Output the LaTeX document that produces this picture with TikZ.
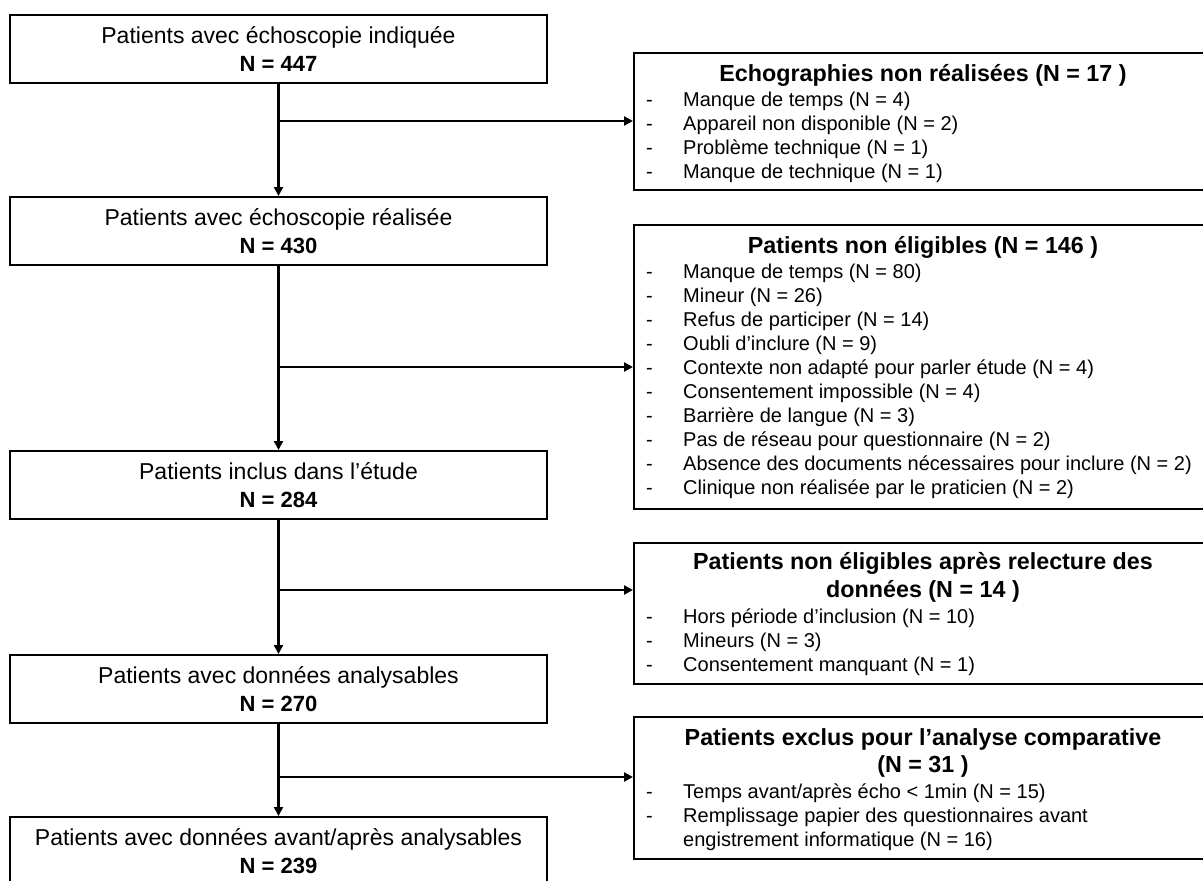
\documentclass[tikz,border=0pt]{standalone}
\usepackage{fontspec}
\setmainfont{Liberation Sans}
\usetikzlibrary{positioning,arrows.meta}

\begin{document}
\begin{tikzpicture}[x=1pt,y=-1pt,
    mainbox/.style={draw,line width=2pt,minimum width=537pt,minimum height=68pt,
      inner sep=0pt,align=center,font=\fontsize{23}{28}\selectfont},
    sidebox/.style={draw,line width=2pt,minimum width=580pt,anchor=north west,inner sep=0pt},
    boxtitle/.style={anchor=base,inner sep=0pt,font=\bfseries\fontsize{23.3}{27}\selectfont},
    boxitem/.style={anchor=base west,inner sep=0pt,font=\fontsize{20}{24}\selectfont},
    arr/.style={line width=2.6pt,-{Triangle[length=9pt,width=9pt]}}]
  \useasboundingbox (0,0) rectangle (1203,881);
  \fill[white] (0,0) rectangle (1203,881);
  % left column
  \node[mainbox] (B1) at (278.5,49) {Patients avec échoscopie indiquée\\{\bfseries\fontsize{22}{28}\selectfont N = 447}};
  \node[mainbox] (B2) at (278.5,231) {Patients avec échoscopie réalisée\\{\bfseries\fontsize{22}{28}\selectfont N = 430}};
  \node[mainbox] (B3) at (278.5,485) {Patients inclus dans l’étude\\{\bfseries\fontsize{22}{28}\selectfont N = 284}};
  \node[mainbox] (B4) at (278.5,689) {Patients avec données analysables\\{\bfseries\fontsize{22}{28}\selectfont N = 270}};
  \node[mainbox] (B5) at (278.5,851) {Patients avec données avant/après analysables\\{\bfseries\fontsize{22}{28}\selectfont N = 239}};
  % right column
  \node[sidebox,minimum height=137pt] (R1) at (633,52) {};
  \node[sidebox,minimum height=284pt] (R2) at (633,224) {};
  \node[sidebox,minimum height=141pt] (R3) at (633,542) {};
  \node[sidebox,minimum height=142pt] (R4) at (633,716) {};
  \node[boxtitle] (R1t) at (923,81) {Echographies non réalisées (N = 17 )};
  \node[boxtitle] (R2t) at (923,253) {Patients non éligibles (N = 146 )};
  \node[boxtitle] (R3t) at (923,569) {Patients non éligibles après relecture des};
  \node[boxtitle] (R3u) at (923,597) {données (N = 14 )};
  \node[boxtitle] (R4t) at (923,745) {Patients exclus pour l’analyse comparative};
  \node[boxtitle] (R4u) at (923,772) {(N = 31 )};
  \foreach \y/\txt [count=\i] in {106/Manque de temps (N = 4),130/Appareil non disponible (N = 2),
      154/Problème technique (N = 1),178/Manque de technique (N = 1)} {
    \node[boxitem] (R1d\i) at (646,\y) {-};
    \node[boxitem] (R1i\i) at (683,\y) {\txt};
  }
  \foreach \y/\txt [count=\i] in {278/Manque de temps (N = 80),302/Mineur (N = 26),
      326/Refus de participer (N = 14),350/Oubli d’inclure (N = 9),
      374/Contexte non adapté pour parler étude (N = 4),398/Consentement impossible (N = 4),
      422/Barrière de langue (N = 3),446/Pas de réseau pour questionnaire (N = 2),
      470/Absence des documents nécessaires pour inclure (N = 2),
      494/Clinique non réalisée par le praticien (N = 2)} {
    \node[boxitem] (R2d\i) at (646,\y) {-};
    \node[boxitem] (R2i\i) at (683,\y) {\txt};
  }
  \foreach \y/\txt [count=\i] in {623/Hors période d’inclusion (N = 10),647/Mineurs (N = 3),
      671/Consentement manquant (N = 1)} {
    \node[boxitem] (R3d\i) at (646,\y) {-};
    \node[boxitem] (R3i\i) at (683,\y) {\txt};
  }
  \node[boxitem] (R4d1) at (646,798) {-};
  \node[boxitem] (R4i1) at (683,798) {Temps avant/après écho < 1min (N = 15)};
  \node[boxitem] (R4d2) at (646,822) {-};
  \node[boxitem] (R4i2) at (683,822) {Remplissage papier des questionnaires avant};
  \node[boxitem] (R4i3) at (683,846) {engistrement informatique (N = 16)};
  % connectors
  \coordinate (J1) at (278.5,121);
  \coordinate (J2) at (278.5,367);
  \coordinate (J3) at (278.5,590);
  \coordinate (J4) at (278.5,777);
  \draw[arr] (B1) -- (B2);
  \draw[arr] (B2) -- (B3);
  \draw[arr] (B3) -- (B4);
  \draw[arr] (B4) -- (B5);
  \draw[arr] (J1) -- (J1 -| R1.west);
  \draw[arr] (J2) -- (J2 -| R2.west);
  \draw[arr] (J3) -- (J3 -| R3.west);
  \draw[arr] (J4) -- (J4 -| R4.west);
\end{tikzpicture}
\end{document}
